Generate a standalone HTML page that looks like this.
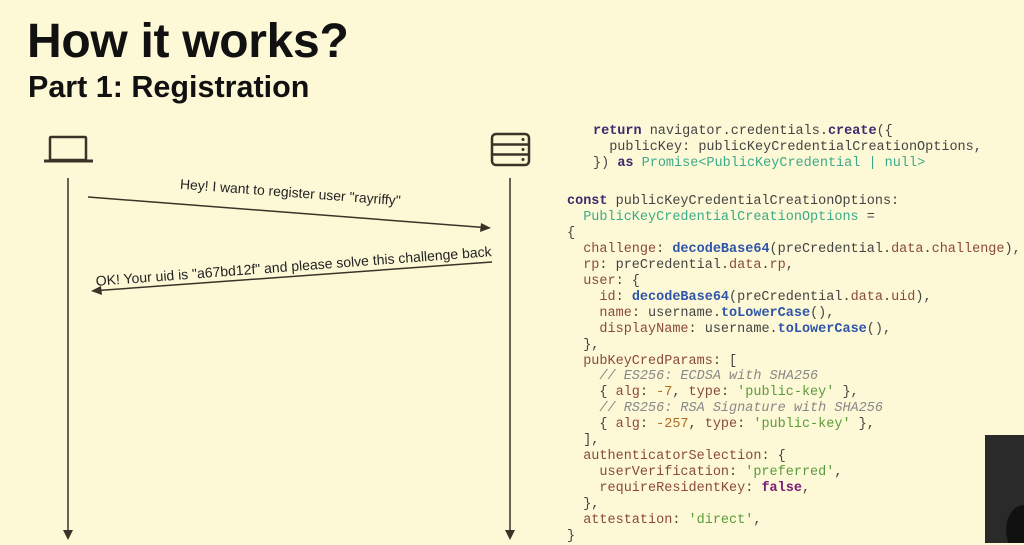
<!DOCTYPE html>
<html><head><style>
body{margin:0;width:1024px;height:543px;background:#fdf9d7;overflow:hidden;position:relative;font-family:"Liberation Sans",sans-serif;color:#111}
.t1{position:absolute;left:27px;top:14px;font-size:48px;font-weight:bold;letter-spacing:-0.3px}
.t2{position:absolute;left:28px;top:70px;font-size:30.5px;font-weight:bold}
pre{position:absolute;margin:0;font-family:"Liberation Mono",monospace;font-size:13.5px;line-height:15.95px;color:#444}
.k{color:#3d2a6e;font-weight:bold}.g{color:#3aaa8a}.p{color:#8a4a3a}.b{color:#2f55a8;font-weight:bold}.s{color:#5a9a3a}.c{color:#888;font-style:italic}.n{color:#b06a20}.f{color:#7a1a7a;font-weight:bold}
</style></head><body>
<div class="t1">How it works?</div>
<div class="t2">Part 1: Registration</div>
<svg width="1024" height="543" style="position:absolute;left:0;top:0">
<g fill="none" stroke="#3a3328" stroke-width="2.5">
<rect x="50" y="137" width="36" height="23" rx="1"/>
<line x1="44" y1="161" x2="93" y2="161" stroke-width="3"/>
<rect x="492" y="134" width="37" height="31" rx="4"/>
<line x1="492" y1="144.5" x2="529" y2="144.5"/><line x1="492" y1="154.5" x2="529" y2="154.5"/>
</g>
<g fill="#3a3328"><circle cx="523" cy="139.5" r="1.5"/><circle cx="523" cy="149.5" r="1.5"/><circle cx="523" cy="159.5" r="1.5"/></g>
<g stroke="#3a3328" stroke-width="1.5">
<line x1="68" y1="178" x2="68" y2="532"/><line x1="510" y1="178" x2="510" y2="532"/>
<line x1="88" y1="197" x2="484" y2="227.5"/><line x1="492" y1="262" x2="98" y2="290.5"/>
</g>
<g fill="#3a3328">
<polygon points="63,530 73,530 68,540"/><polygon points="505,530 515,530 510,540"/>
<polygon points="491,228 481,223 480,232"/><polygon points="91,291 101,286 102,295"/>
</g>
<text x="290" y="197" font-size="13.9" text-anchor="middle" transform="rotate(4.3 290 197)" fill="#222">Hey! I want to register user "rayriffy"</text>
<text x="294" y="271" font-size="14" text-anchor="middle" transform="rotate(-4.3 294 271)" fill="#222">OK! Your uid is "a67bd12f" and please solve this challenge back</text>
<rect x="985" y="435" width="39" height="108" fill="#2a2a2a"/>
<ellipse cx="1024" cy="530" rx="18" ry="25" fill="#111"/>
</svg>
<pre style="left:593px;top:124px"><span class="k">return</span> navigator.credentials.<span class="k">create</span>({
  publicKey: publicKeyCredentialCreationOptions,
}) <span class="k">as</span> <span class="g">Promise&lt;PublicKeyCredential | null&gt;</span></pre>
<pre style="left:567px;top:194px"><span class="k">const</span> publicKeyCredentialCreationOptions:
  <span class="g">PublicKeyCredentialCreationOptions</span> =
{
  <span class="p">challenge</span>: <span class="b">decodeBase64</span>(preCredential.<span class="p">data</span>.<span class="p">challenge</span>),
  <span class="p">rp</span>: preCredential.<span class="p">data</span>.<span class="p">rp</span>,
  <span class="p">user</span>: {
    <span class="p">id</span>: <span class="b">decodeBase64</span>(preCredential.<span class="p">data</span>.<span class="p">uid</span>),
    <span class="p">name</span>: username.<span class="b">toLowerCase</span>(),
    <span class="p">displayName</span>: username.<span class="b">toLowerCase</span>(),
  },
  <span class="p">pubKeyCredParams</span>: [
    <span class="c">// ES256: ECDSA with SHA256</span>
    { <span class="p">alg</span>: <span class="n">-7</span>, <span class="p">type</span>: <span class="s">'public-key'</span> },
    <span class="c">// RS256: RSA Signature with SHA256</span>
    { <span class="p">alg</span>: <span class="n">-257</span>, <span class="p">type</span>: <span class="s">'public-key'</span> },
  ],
  <span class="p">authenticatorSelection</span>: {
    <span class="p">userVerification</span>: <span class="s">'preferred'</span>,
    <span class="p">requireResidentKey</span>: <span class="f">false</span>,
  },
  <span class="p">attestation</span>: <span class="s">'direct'</span>,
}</pre>
</body></html>
